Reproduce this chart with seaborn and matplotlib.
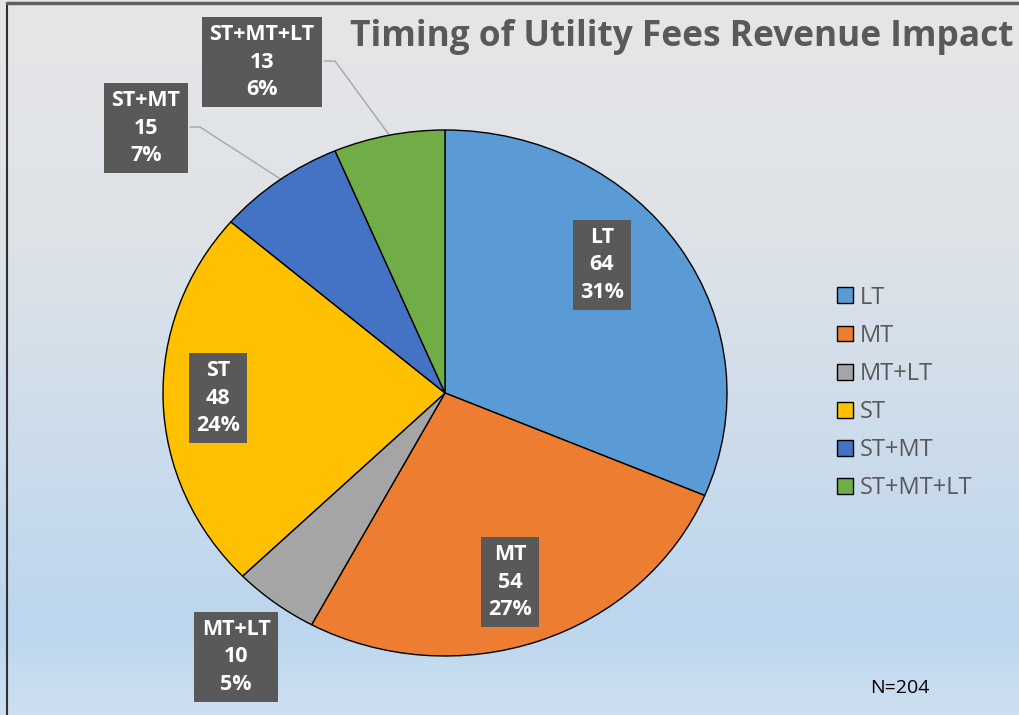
import numpy as np
import matplotlib
matplotlib.use("Agg")
import matplotlib.pyplot as plt
import seaborn as sns
from matplotlib.colors import LinearSegmentedColormap

categories = ["LT", "MT", "MT+LT", "ST", "ST+MT", "ST+MT+LT"]
counts = [64, 54, 10, 48, 15, 13]
percents = ["31%", "27%", "5%", "24%", "7%", "6%"]
colors = ["#5B9BD5", "#ED7D31", "#A5A5A5", "#FFC000", "#4472C4", "#70AD47"]
title = "Timing of Utility Fees Revenue Impact"
n_note = "N=204"

sns.set_theme(style="white")
plt.rcParams['font.family'] = ['Open Sans', 'DejaVu Sans']

W, H = 1019, 715
fig = plt.figure(figsize=(W / 100, H / 100), dpi=100)

# gradient background
bg = fig.add_axes([0, 0, 1, 1], zorder=-10)
cmap = LinearSegmentedColormap.from_list(
    "bg", [(0, "#e6e6e7"), (0.35, "#dde2e8"), (0.88, "#bcd6ee"), (1, "#cde0f1")])
bg.imshow(np.linspace(0, 1, 256).reshape(-1, 1), aspect="auto", cmap=cmap,
          extent=[0, 1, 0, 1], origin="upper")
bg.plot([7 / W, 7 / W], [0, 1 - 3 / H], color="#303030", lw=1.5)
bg.plot([7 / W, 1], [1 - 3 / H, 1 - 3 / H], color="#606060", lw=2.5)
bg.set_xlim(0, 1)
bg.set_ylim(0, 1)
bg.axis("off")

# pie axes (pixel layout)
cx, cy, rx, ry = 445, 393, 282, 263
ax = fig.add_axes([(cx - rx) / W, 1 - (cy + ry) / H, 2 * rx / W, 2 * ry / H])
palette = sns.color_palette(colors)
wedges, _ = ax.pie(counts, colors=palette, startangle=90, counterclock=False,
                   wedgeprops=dict(edgecolor="black", linewidth=1))
ax.set_aspect("auto")
ax.set_xlim(-1, 1)
ax.set_ylim(-1, 1)
ax.axis("off")

# data label boxes (pixel centres)
label_pos = [(602, 265), (510, 582), (236, 657), (218, 398), (146, 128), (262, 62)]
for cat, c, p, (px, py) in zip(categories, counts, percents, label_pos):
    fig.text(px / W, 1 - py / H, f"{cat}\n{c}\n{p}", ha="center", va="center",
             color="white", fontsize=15.5, fontweight="bold", linespacing=1.38,
             bbox=dict(boxstyle="square,pad=0.35", fc="#595959", ec="none"))

# leader lines
for pts in [[(190, 127), (200, 127), (282, 180)], [(324, 61), (335, 61), (390, 136)]]:
    xs = [x / W for x, _ in pts]
    ys = [1 - y / H for _, y in pts]
    bg.plot(xs, ys, color="#a6a6a6", lw=1)

fig.text(1013 / W, 1 - 37 / H, title, ha="right", va="center",
         fontsize=25.4, fontweight="bold", color="#595959")

fig.legend(wedges, categories, loc="center left", bbox_to_anchor=(816 / W, 1 - 393 / H),
           frameon=False, fontsize=17, labelcolor="#595959", handlelength=0.65,
           handleheight=0.65, labelspacing=0.6, handletextpad=0.3)

fig.text(900 / W, 1 - 688 / H, n_note, ha="center", va="center", fontsize=14, color="black")

fig.savefig("out.png", dpi=100)
